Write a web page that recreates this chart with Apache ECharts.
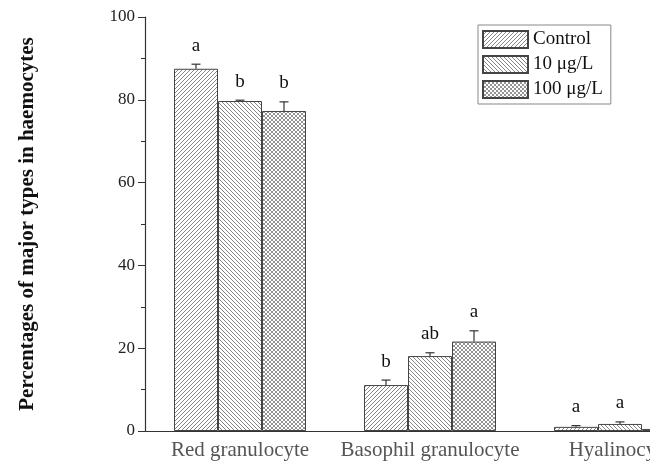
<!DOCTYPE html>
<html><head><meta charset="utf-8">
<script src="https://cdn.jsdelivr.net/npm/echarts@6/dist/echarts.min.js"></script>
<style>html,body{margin:0;padding:0;background:#fff}#c{width:650px;height:466px}</style>
</head><body><div id="c"></div>
<script>
const categories = ['Red granulocyte', 'Basophil granulocyte', 'Hyalinocyte'];
const seriesNames = ['Control', '10 μg/L', '100 μg/L'];
const controlVals = [87.5, 11.1, 1.0];
const controlErr = [1.1, 1.2, 0.3];
const lowVals = [79.7, 18.1, 1.7];
const lowErr = [0.2, 0.8, 0.5];
const highVals = [77.3, 21.6, 0.5];
const highErr = [2.2, 2.6, 0.2];
const controlLetters = ['a', 'b', 'a'];
const lowLetters = ['b', 'ab', 'a'];
const highLetters = ['b', 'a', 'a'];
const yMin = 0, yMax = 100, yStep = 20;

function pattern(kind) {
  const s = 4;
  const c = document.createElement('canvas');
  c.width = s; c.height = s;
  const g = c.getContext('2d');
  g.fillStyle = '#fff'; g.fillRect(0, 0, s, s);
  g.strokeStyle = kind === 'cross' ? '#777' : '#666'; g.lineWidth = 0.8;
  function fwd() { g.beginPath(); g.moveTo(0, s); g.lineTo(s, 0); g.moveTo(-1, 1); g.lineTo(1, -1); g.moveTo(s - 1, s + 1); g.lineTo(s + 1, s - 1); g.stroke(); }
  function back() { g.beginPath(); g.moveTo(0, 0); g.lineTo(s, s); g.moveTo(-1, s - 1); g.lineTo(1, s + 1); g.moveTo(s - 1, -1); g.lineTo(s + 1, 1); g.stroke(); }
  if (kind === 'fwd') fwd();
  else if (kind === 'back') back();
  else { fwd(); back(); }
  return { image: c, repeat: 'repeat' };
}
const fills = [pattern('fwd'), pattern('back'), pattern('cross')];
const vals = [controlVals, lowVals, highVals];
const errs = [controlErr, lowErr, highErr];
const letters = [controlLetters, lowLetters, highLetters];
const barW = 44;
const serif = 'Liberation Serif';

const series = [];
seriesNames.forEach((n, i) => {
  series.push({
    name: n, type: 'bar', data: vals[i], barWidth: barW, barGap: '0%',
    itemStyle: { color: fills[i], borderColor: '#444', borderWidth: 1 }
  });
});
seriesNames.forEach((n, i) => {
  const off = (i - 1) * barW;
  series.push({
    type: 'custom', name: n + ' err', silent: true, z: 5,
    data: categories.map((c, k) => [k, vals[i][k], errs[i][k], letters[i][k]]),
    renderItem: function (params, api) {
      const k = api.value(0), v = api.value(1), e = api.value(2);
      const p0 = api.coord([k, v]);
      const p1 = api.coord([k, v + e]);
      const x = p0[0] + off;
      const cap = 4.5;
      return {
        type: 'group', children: [
          { type: 'line', shape: { x1: x, y1: p0[1], x2: x, y2: p1[1] }, style: { stroke: '#333', lineWidth: 1.2 } },
          { type: 'line', shape: { x1: x - cap, y1: p1[1], x2: x + cap, y2: p1[1] }, style: { stroke: '#333', lineWidth: 1.2 } },
          { type: 'text', x: x, y: p1[1] - 9, style: { text: letters[i][k], fill: '#111', font: '19px "' + serif + '"', textAlign: 'center', textVerticalAlign: 'bottom' } }
        ]
      };
    }
  });
});

const chart = echarts.init(document.getElementById('c'), null, { renderer: 'canvas' });
chart.setOption({
  animation: false,
  backgroundColor: '#fff',
  grid: { left: 145, top: 17, width: 570, bottom: 35, outerBoundsMode: 'none', containLabel: false },
  legend: {
    data: seriesNames, orient: 'vertical', left: 478, top: 25,
    itemWidth: 45, itemHeight: 17, itemGap: 6, icon: 'rect',
    borderColor: '#888', borderWidth: 1, padding: [5, 8, 5, 4],
    textStyle: { fontFamily: serif, fontSize: 19, color: '#111' }
  },
  xAxis: {
    type: 'category', data: categories,
    axisLine: { lineStyle: { color: '#333', width: 1.2 } },
    axisTick: { show: false },
    axisLabel: { interval: 0, fontFamily: serif, fontSize: 21, color: '#555', margin: 9 }
  },
  yAxis: {
    type: 'value', min: yMin, max: yMax, interval: yStep,
    name: 'Percentages of major types in haemocytes',
    nameLocation: 'middle', nameGap: 107,
    nameTextStyle: { fontFamily: serif, fontSize: 21, fontWeight: 'bold', color: '#111' },
    axisLine: { show: true, lineStyle: { color: '#333', width: 1.2 } },
    axisTick: { show: true, length: 7, lineStyle: { color: '#333' } },
    minorTick: { show: true, splitNumber: 2, length: 4, lineStyle: { color: '#333' } },
    splitLine: { show: false },
    axisLabel: { fontFamily: serif, fontSize: 17, color: '#222', margin: 10 }
  },
  series: series
});
</script></body></html>
